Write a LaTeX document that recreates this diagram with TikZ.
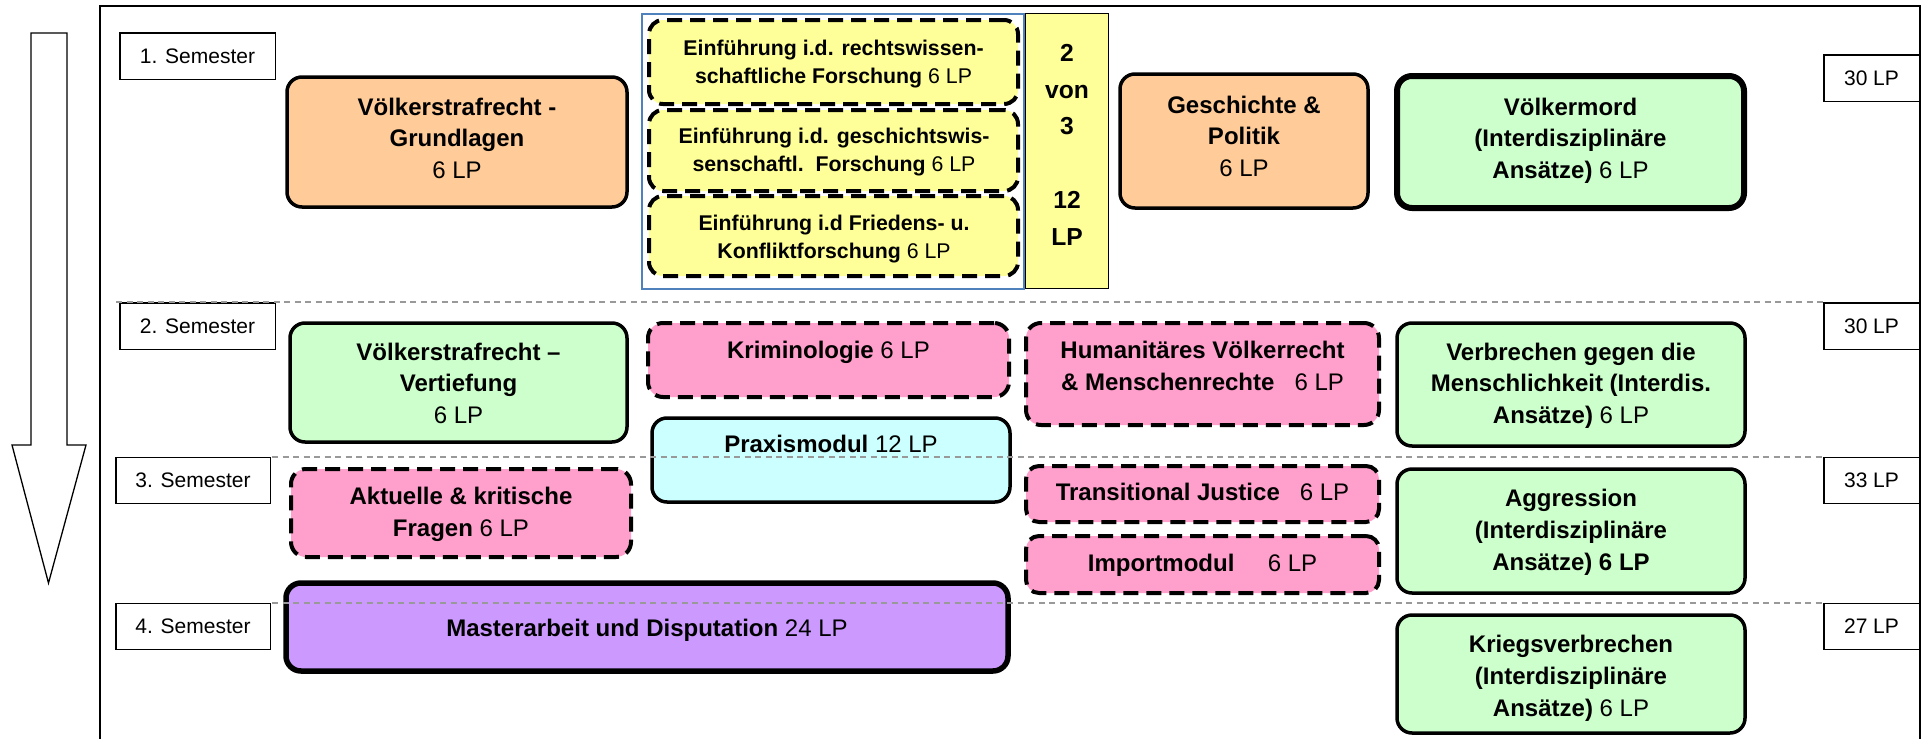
\documentclass[tikz,border=0pt]{standalone}
\usepackage{fontspec}
\setmainfont{Liberation Sans}
\usetikzlibrary{fit}
\definecolor{orangec}{HTML}{FFCC99}
\definecolor{greenc}{HTML}{CCFFCC}
\definecolor{yellowc}{HTML}{FFFF99}
\definecolor{pinkc}{HTML}{FF9FCC}
\definecolor{cyanc}{HTML}{CCFFFF}
\definecolor{purplec}{HTML}{CC99FF}
\definecolor{bluec}{HTML}{4F81BD}
\definecolor{sepgray}{HTML}{999999}
\newcommand{\bigstrut}{\rule{0pt}{19pt}}
\newcommand{\smallstrut}{\rule{0pt}{17pt}}
\begin{document}
\begin{tikzpicture}[x=1pt,y=-1pt,
  box/.style={inner sep=0pt, outer sep=0pt, rounded corners=15pt},
  solidbox/.style={box, draw=black, line width=3.5pt},
  dashbox/.style={box, draw=black, line width=4pt, dash pattern=on 15pt off 8pt},
  plainbox/.style={draw=black, line width=1.5pt, fill=white, inner sep=0pt, font=\fontsize{21}{25}\selectfont},
  modtext/.style={anchor=north, align=center, inner sep=0pt, font=\fontsize{24}{31.7}\selectfont},
  eintext/.style={anchor=north, align=center, inner sep=0pt, font=\fontsize{21.3}{28.3}\selectfont},
  sepline/.style={draw=sepgray, line width=2pt, dash pattern=on 6pt off 4.5pt},
]
\useasboundingbox (0,0) rectangle (1923,739);
\clip (0,0) rectangle (1923,739);

% outer frame
\draw[line width=2pt] (100,760) -- (100,6) -- (1920,6) -- (1920,760);

% downward block arrow
\draw[line width=1.3pt, fill=white] (31,33) -- (67,33) -- (67,445) -- (86,445) -- (48.5,583) -- (12,445) -- (31,445) -- cycle;

% semester labels
\node[plainbox, minimum width=155.5pt, minimum height=46.5pt] (s1) at (197.5,56) {1. Semester};
\node[plainbox, minimum width=155.5pt, minimum height=46.5pt] (s2) at (197.5,326) {2. Semester};
\node[plainbox, minimum width=154.5pt, minimum height=46pt] (s3) at (193,480.25) {3. Semester};
\node[plainbox, minimum width=154.5pt, minimum height=46pt] (s4) at (193,626.25) {4. Semester};

% LP labels
\node[plainbox, minimum width=95.5pt, minimum height=46.5pt] (lp1) at (1871.5,78) {30 LP};
\node[plainbox, minimum width=95.5pt, minimum height=46.5pt] (lp2) at (1871.5,326) {30 LP};
\node[plainbox, minimum width=95.5pt, minimum height=46pt] (lp3) at (1871.5,480.25) {33 LP};
\node[plainbox, minimum width=95.5pt, minimum height=46pt] (lp4) at (1871.5,626.25) {27 LP};

% ---- 1. Semester ----
\node[solidbox, fill=orangec, fit={(287,77) (627,207)}] (vsrg) {};
\node[modtext] (vsrg-t) at (457,96) {\bigstrut\textbf{Völkerstrafrecht -}\\\textbf{Grundlagen}\\6 LP};

\node[draw=bluec, line width=2pt, inner sep=0pt, fit={(642,14) (1024,289)}] (group) {};
\node[dashbox, fill=yellowc, rounded corners=14pt, fit={(649,20) (1018,104)}] (e1) {};
\node[eintext] (e1-t) at (833.5,38) {\smallstrut\textbf{Einführung i.d. rechtswissen-}\\\textbf{schaftliche Forschung} 6 LP};
\node[dashbox, fill=yellowc, rounded corners=14pt, fit={(649,110) (1018,191)}] (e2) {};
\node[eintext] (e2-t) at (834,126.3) {\smallstrut\textbf{Einführung i.d. geschichtswis-}\\\textbf{senschaftl.\ \ Forschung} 6 LP};
\node[dashbox, fill=yellowc, rounded corners=14pt, fit={(649,196) (1018,276)}] (e3) {};
\node[eintext] (e3-t) at (834,213) {\smallstrut\textbf{Einführung i.d Friedens- u.}\\\textbf{Konfliktforschung} 6 LP};

\node[draw=black, line width=1.5pt, fill=yellowc, inner sep=0pt, fit={(1025.5,13.5) (1108.5,288.5)}] (choice) {};
\node[anchor=north, align=center, inner sep=0pt, font=\fontsize{24.6}{36.8}\selectfont\bfseries] (choice-t) at (1067,42) {\bigstrut 2\\von\\3\\\mbox{}\\12\\LP};

\node[solidbox, fill=orangec, fit={(1120,74) (1368,208)}] (gesch) {};
\node[modtext] (gesch-t) at (1244,94) {\bigstrut\textbf{Geschichte \&}\\\textbf{Politik}\\6 LP};

\node[solidbox, line width=6pt, fill=greenc, fit={(1397,76) (1744,208)}] (vmord) {};
\node[modtext] (vmord-t) at (1570.5,96) {\bigstrut\textbf{Völkermord}\\\textbf{(Interdisziplinäre}\\\textbf{Ansätze)} 6 LP};

% ---- 2. Semester ----
\node[solidbox, fill=greenc, fit={(290,323) (627,442)}] (vsrv) {};
\node[modtext] (vsrv-t) at (458.5,341) {\bigstrut\textbf{Völkerstrafrecht –}\\\textbf{Vertiefung}\\6 LP};

\node[dashbox, fill=pinkc, fit={(648,323) (1009,397)}] (krim) {};
\node[modtext] (krim-t) at (828.5,339.3) {\bigstrut\textbf{Kriminologie} 6 LP};

\node[solidbox, fill=cyanc, fit={(652,418) (1010,502)}] (praxis) {};
\node[modtext] (praxis-t) at (831,433.7) {\bigstrut\textbf{Praxismodul} 12 LP};

\node[dashbox, fill=pinkc, fit={(1026,323) (1379,425)}] (human) {};
\node[modtext] (human-t) at (1202.5,339.3) {\bigstrut\textbf{Humanitäres Völkerrecht}\\\textbf{\& Menschenrechte}\ \ \ 6 LP};

\node[solidbox, fill=greenc, fit={(1397,323) (1745,446)}] (verbr) {};
\node[modtext] (verbr-t) at (1571,341) {\bigstrut\textbf{Verbrechen gegen die}\\\textbf{Menschlichkeit (Interdis.}\\\textbf{Ansätze)} 6 LP};

% ---- 3. Semester ----
\node[dashbox, fill=pinkc, fit={(291,469) (631,557)}] (akt) {};
\node[modtext] (akt-t) at (461,485.3) {\bigstrut\textbf{Aktuelle \& kritische}\\\textbf{Fragen} 6 LP};

\node[dashbox, fill=pinkc, rounded corners=13pt, fit={(1026,466) (1379,522)}] (trans) {};
\node[modtext] (trans-t) at (1202.5,481) {\bigstrut\textbf{Transitional Justice}\ \ \ 6 LP};

\node[dashbox, fill=pinkc, rounded corners=13pt, fit={(1026,536) (1379,593)}] (import) {};
\node[modtext] (import-t) at (1202.5,552) {\bigstrut\textbf{Importmodul}\ \ \ \ \ 6 LP};

\node[solidbox, fill=greenc, fit={(1397,469) (1745,593)}] (aggr) {};
\node[modtext] (aggr-t) at (1571,487.7) {\bigstrut\textbf{Aggression}\\\textbf{(Interdisziplinäre}\\\textbf{Ansätze) 6 LP}};

% ---- 4. Semester ----
\node[solidbox, line width=5.5pt, fill=purplec, fit={(286,583) (1008,671)}] (master) {};
\node[modtext] (master-t) at (647,617) {\bigstrut\textbf{Masterarbeit und Disputation} 24 LP};

\node[solidbox, fill=greenc, fit={(1397,615) (1745,733)}] (krieg) {};
\node[modtext] (krieg-t) at (1571,633.7) {\bigstrut\textbf{Kriegsverbrechen}\\\textbf{(Interdisziplinäre}\\\textbf{Ansätze)} 6 LP};

% semester separators
\draw[sepline] (116,302.3) -- (1823,302.3);
\draw[sepline] (272,456.5) -- (1823,456.5);
\draw[sepline] (272,602.5) -- (1823,602.5);
\end{tikzpicture}
\end{document}
